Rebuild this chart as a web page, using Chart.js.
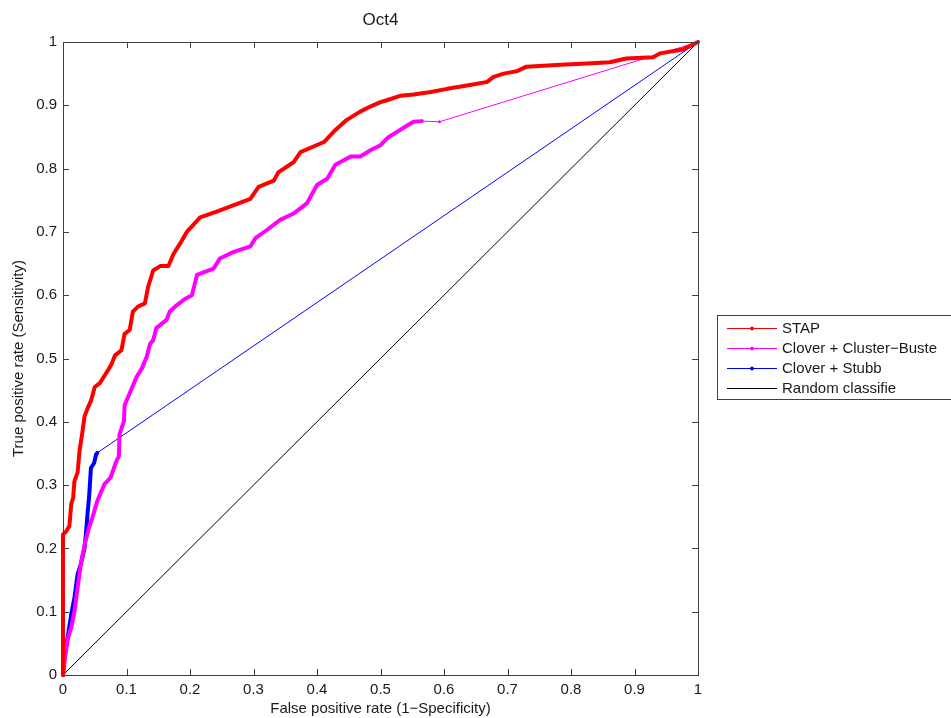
<!DOCTYPE html>
<html>
<head>
<meta charset="utf-8">
<title>Oct4 ROC</title>
<script src="https://cdn.jsdelivr.net/npm/chart.js@4/dist/chart.umd.min.js"></script>
<style>
  html, body { margin: 0; padding: 0; background: #fff; }
  canvas { display: block; }
</style>
</head>
<body>
<canvas id="roc" width="951" height="718"></canvas>
<script>
/* ---------- data ---------- */
const stapFpr = [0, 0, 0.005, 0.01, 0.013, 0.016, 0.018, 0.023, 0.026, 0.03, 0.034, 0.039, 0.044, 0.05, 0.058, 0.068, 0.076, 0.082, 0.092, 0.097, 0.105, 0.11, 0.118, 0.129, 0.134, 0.142, 0.153, 0.166, 0.174, 0.184, 0.195, 0.216, 0.242, 0.268, 0.295, 0.308, 0.332, 0.339, 0.363, 0.374, 0.411, 0.429, 0.447, 0.468, 0.484, 0.5, 0.51, 0.531, 0.552, 0.579, 0.605, 0.641, 0.668, 0.678, 0.694, 0.715, 0.73, 0.783, 0.825, 0.861, 0.887, 0.929, 0.94, 0.976, 1];
const stapTpr = [0, 0.222, 0.227, 0.235, 0.27, 0.28, 0.306, 0.32, 0.354, 0.38, 0.409, 0.422, 0.433, 0.455, 0.461, 0.477, 0.49, 0.505, 0.513, 0.539, 0.545, 0.574, 0.582, 0.587, 0.613, 0.639, 0.646, 0.646, 0.665, 0.681, 0.7, 0.723, 0.732, 0.742, 0.752, 0.771, 0.781, 0.794, 0.81, 0.826, 0.842, 0.861, 0.877, 0.89, 0.898, 0.905, 0.908, 0.915, 0.917, 0.921, 0.926, 0.932, 0.937, 0.945, 0.95, 0.954, 0.961, 0.964, 0.966, 0.968, 0.974, 0.976, 0.982, 0.988, 1];

const clusterFpr = [0, 0.003, 0.008, 0.013, 0.018, 0.023, 0.028, 0.034, 0.041, 0.047, 0.054, 0.065, 0.075, 0.083, 0.088, 0.089, 0.096, 0.097, 0.105, 0.116, 0.124, 0.132, 0.137, 0.142, 0.147, 0.163, 0.168, 0.179, 0.192, 0.203, 0.211, 0.237, 0.247, 0.268, 0.295, 0.303, 0.321, 0.342, 0.363, 0.384, 0.4, 0.416, 0.429, 0.453, 0.468, 0.484, 0.5, 0.513, 0.526, 0.542, 0.552, 0.565, 0.593, 1];
const clusterTpr = [0, 0.027, 0.059, 0.075, 0.1, 0.138, 0.175, 0.206, 0.233, 0.251, 0.275, 0.301, 0.312, 0.335, 0.346, 0.38, 0.401, 0.426, 0.445, 0.471, 0.484, 0.503, 0.523, 0.529, 0.548, 0.561, 0.574, 0.584, 0.594, 0.6, 0.632, 0.642, 0.658, 0.668, 0.677, 0.69, 0.703, 0.719, 0.729, 0.745, 0.774, 0.784, 0.806, 0.819, 0.819, 0.829, 0.837, 0.85, 0.858, 0.868, 0.874, 0.875, 0.874, 1];

const stubbFpr = [0, 0.003, 0.008, 0.013, 0.018, 0.023, 0.028, 0.034, 0.036, 0.039, 0.041, 0.044, 0.049, 0.052, 0.054, 1];
const stubbTpr = [0, 0.033, 0.064, 0.096, 0.122, 0.159, 0.175, 0.201, 0.222, 0.259, 0.28, 0.327, 0.335, 0.348, 0.351, 1];

const randomFpr = [0, 1];
const randomTpr = [0, 1];

const seriesNames = ["STAP", "Clover + Cluster\u2212Buste", "Clover + Stubb", "Random classifie"];
const xTicks = [0, 0.1, 0.2, 0.3, 0.4, 0.5, 0.6, 0.7, 0.8, 0.9, 1];
const yTicks = [0, 0.1, 0.2, 0.3, 0.4, 0.5, 0.6, 0.7, 0.8, 0.9, 1];

const toPoints = (xs, ys) => xs.map((x, i) => ({ x: x, y: ys[i] }));
const FONT = "'Liberation Sans', Arial, sans-serif";

/* ---------- thick where the points are dense, thin on the long jumps ---------- */
const segWidth = (ctx) => {
  const ds = ctx.chart.data.datasets[ctx.datasetIndex];
  if (ds.thinAfter !== undefined && ctx.p0DataIndex >= ds.thinAfter) return 1;
  return ds.thickWidth || 1;
};

/* ---------- box, inward ticks, title and legend (matlab look) ---------- */
const matlabFrame = {
  id: "matlabFrame",
  afterDatasetsDraw(chart) {
    const c = chart.ctx;
    const a = chart.chartArea;
    const xs = chart.scales.x;
    const ys = chart.scales.y;
    c.save();
    c.strokeStyle = "#404040";
    c.lineWidth = 1;
    c.strokeRect(Math.round(a.left) + 0.5, Math.round(a.top) + 0.5,
      Math.round(a.right - a.left), Math.round(a.bottom - a.top));
    c.beginPath();
    const tl = 6;
    xTicks.forEach((v) => {
      const px = Math.round(xs.getPixelForValue(v)) + 0.5;
      c.moveTo(px, a.bottom); c.lineTo(px, a.bottom - tl);
      c.moveTo(px, a.top); c.lineTo(px, a.top + tl);
    });
    yTicks.forEach((v) => {
      const py = Math.round(ys.getPixelForValue(v)) + 0.5;
      c.moveTo(a.left, py); c.lineTo(a.left + tl, py);
      c.moveTo(a.right, py); c.lineTo(a.right - tl, py);
    });
    c.stroke();

    // title over the axes
    c.fillStyle = "#1a1a1a";
    c.font = "17px " + FONT;
    c.textAlign = "center";
    c.textBaseline = "middle";
    c.fillText("Oct4", (a.left + a.right) / 2, 20);

    // legend box
    const lx = 717.5, ly = 315.5, lh = 84;
    c.fillStyle = "#fff";
    c.fillRect(lx, ly, 300, lh);
    c.strokeStyle = "#404040";
    c.strokeRect(lx, ly, 300, lh);
    c.font = "15px " + FONT;
    c.textAlign = "left";
    chart.data.datasets.forEach((ds, i) => {
      const ry = 328 + i * 20;
      c.strokeStyle = ds.borderColor;
      c.lineWidth = 1;
      c.beginPath();
      c.moveTo(727, ry + 0.5); c.lineTo(777, ry + 0.5);
      c.stroke();
      if (ds.legendDot) {
        c.fillStyle = ds.borderColor;
        c.beginPath();
        c.arc(752, ry + 0.5, 2, 0, Math.PI * 2);
        c.fill();
      }
      c.fillStyle = "#1a1a1a";
      c.fillText(ds.label, 782, ry + 1);
    });
    c.restore();
  }
};

new Chart(document.getElementById("roc"), {
  type: "line",
  plugins: [matlabFrame],
  data: {
    datasets: [
      {
        label: seriesNames[0],
        data: toPoints(stapFpr, stapTpr),
        borderColor: "#ff0000",
        backgroundColor: "#ff0000",
        thickWidth: 4,
        legendDot: true,
        order: 0,
      },
      {
        label: seriesNames[1],
        data: toPoints(clusterFpr, clusterTpr),
        borderColor: "#ff00ff",
        backgroundColor: "#ff00ff",
        thickWidth: 4,
        thinAfter: clusterFpr.length - 3,
        legendDot: true,
        order: 1,
      },
      {
        label: seriesNames[2],
        data: toPoints(stubbFpr, stubbTpr),
        borderColor: "#0000ff",
        backgroundColor: "#0000ff",
        thickWidth: 4,
        thinAfter: stubbFpr.length - 2,
        legendDot: true,
        order: 2,
      },
      {
        label: seriesNames[3],
        data: toPoints(randomFpr, randomTpr),
        borderColor: "#000000",
        backgroundColor: "#000000",
        thickWidth: 1,
        legendDot: false,
        pointRadius: 0,
        order: 3,
      },
    ],
  },
  options: {
    responsive: false,
    devicePixelRatio: 1,
    animation: false,
    layout: { padding: { top: 42, right: 253, left: 0, bottom: 0 } },
    elements: {
      line: { tension: 0, borderWidth: 1, borderJoinStyle: "round", borderCapStyle: "round" },
      point: { radius: 1.5, borderWidth: 0, hoverRadius: 1.5 },
    },
    datasets: {
      line: { clip: false, segment: { borderWidth: segWidth } },
    },
    plugins: {
      legend: { display: false },
      tooltip: { enabled: false },
      title: { display: false },
    },
    scales: {
      x: {
        type: "linear",
        min: 0,
        max: 1,
        afterFit: (s) => { s.height = 43; },
        afterBuildTicks: (s) => { s.ticks = xTicks.map((v) => ({ value: v })); },
        grid: { display: false, drawTicks: false },
        border: { display: false },
        ticks: {
          padding: 6,
          color: "#1a1a1a",
          font: { family: FONT, size: 15 },
          callback: (v) => (v === 0 || v === 1 ? String(v) : v.toFixed(1)),
        },
        title: {
          display: true,
          text: "False positive rate (1\u2212Specificity)",
          color: "#1a1a1a",
          font: { family: FONT, size: 15 },
          padding: 0,
        },
      },
      y: {
        type: "linear",
        min: 0,
        max: 1,
        afterFit: (s) => { s.width = 63; },
        afterBuildTicks: (s) => { s.ticks = yTicks.map((v) => ({ value: v })); },
        grid: { display: false, drawTicks: false },
        border: { display: false },
        ticks: {
          padding: 6,
          color: "#1a1a1a",
          font: { family: FONT, size: 15 },
          callback: (v) => (v === 0 || v === 1 ? String(v) : v.toFixed(1)),
        },
        title: {
          display: true,
          text: "True positive rate (Sensitivity)",
          color: "#1a1a1a",
          font: { family: FONT, size: 15 },
          padding: { top: 10, bottom: 0 },
        },
      },
    },
  },
});
</script>
</body>
</html>
